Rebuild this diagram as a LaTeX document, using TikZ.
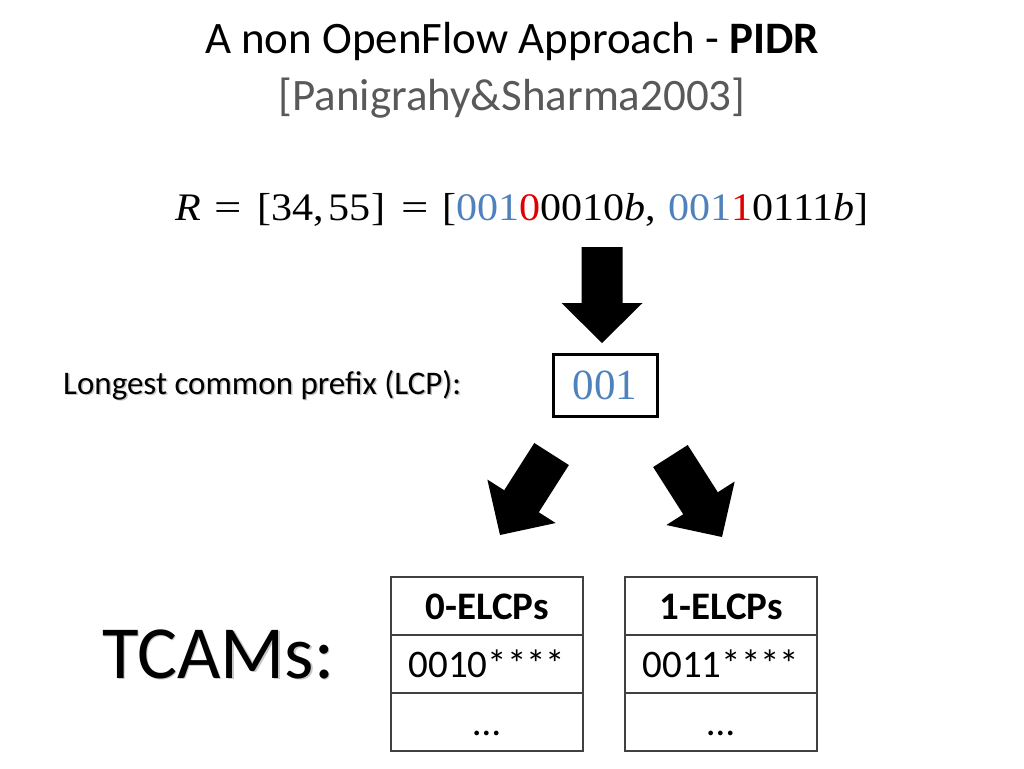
\documentclass[tikz,border=0pt]{standalone}
\usepackage{fontspec}
\setmainfont{Carlito}
\newfontfamily\eqfont[FakeStretch=1.08]{Liberation Serif}
\newfontfamily\boxfont{Liberation Serif}
\definecolor{pblue}{HTML}{4F81BD}
\definecolor{pred}{HTML}{E00000}
\definecolor{tgray}{HTML}{595959}
\definecolor{lgray}{HTML}{404040}
\tikzset{
  cell/.style={draw=lgray, line width=1.5pt, minimum width=192pt, minimum height=58pt,
    inner sep=0pt, text height=26pt, text depth=0pt, font=\fontsize{39}{42}\selectfont},
  headcell/.style={cell, font=\bfseries\fontsize{39}{42}\selectfont},
  blockarrow/.style={fill=black},
  shadowtxt/.style={text=black!22}
}
\newcommand{\barrow}{(0,0) -- (40.5,-40) -- (20.5,-40) -- (20.5,-96) -- (-20.5,-96) -- (-20.5,-40) -- (-40.5,-40) -- cycle}
\newcommand{\eqsign}{\scalebox{1.15}[1]{=}}
\begin{document}
\begin{tikzpicture}[x=1pt,y=-1pt]
\useasboundingbox (0,0) rectangle (1024,768);
% title
\node[anchor=base, font=\fontsize{45}{48}\selectfont] (title) at (512,53) {A non OpenFlow Approach - \textbf{PIDR}};
\node[anchor=base, font=\fontsize{45}{48}\selectfont, text=tgray] (cite) at (512,110) {[Panigrahy\&Sharma2003]};
% equation
\node[anchor=base west, inner sep=0pt, font=\eqfont\fontsize{39}{42}\selectfont] (eq) at (175,220)
  {\textit{R}\hspace{14pt}\eqsign\hspace{15pt}[34,\hspace{5pt}55]\hspace{16pt}\eqsign\hspace{14pt}[\textcolor{pblue}{001}\textcolor{pred}{0}0010\textit{b},\hspace{12pt}\textcolor{pblue}{001}\textcolor{pred}{1}0111\textit{b}]};
% down arrow
\begin{scope}[shift={(602,343)}]
  \fill[blockarrow] \barrow;
\end{scope}
% LCP box
\node[draw=black, line width=3pt, minimum width=104pt, minimum height=62pt, inner sep=0pt,
  font=\boxfont\fontsize{43}{46}\selectfont, text=pblue] (lcp) at (605,385) {001};
% LCP label
\node[anchor=base west, inner sep=0pt, font=\fontsize{33}{36}\selectfont, shadowtxt] at (64.5,395.5) {Longest common prefix (LCP):};
\node[anchor=base west, inner sep=0pt, font=\fontsize{33}{36}\selectfont] (lcplabel) at (63,394) {Longest common prefix (LCP):};
% diagonal arrows
\begin{scope}[shift={(500,535)}, rotate=-32.5]
  \fill[blockarrow] \barrow;
\end{scope}
\begin{scope}[shift={(722,537)}, rotate=32.5]
  \fill[blockarrow] \barrow;
\end{scope}
% TCAMs
\node[anchor=base west, inner sep=0pt, font=\fontsize{75}{78}\selectfont, shadowtxt] at (103.5,679.5) {TCAMs:};
\node[anchor=base west, inner sep=0pt, font=\fontsize{75}{78}\selectfont] (tcams) at (102,678) {TCAMs:};
% tables
\node[headcell] (l1) at (487,606) {0-ELCPs};
\node[cell] (l2) at (487,664) {0010****};
\node[cell] (l3) at (487,722) {…};
\node[headcell] (r1) at (721,606) {1-ELCPs};
\node[cell] (r2) at (721,664) {0011****};
\node[cell] (r3) at (721,722) {…};
\end{tikzpicture}
\end{document}
